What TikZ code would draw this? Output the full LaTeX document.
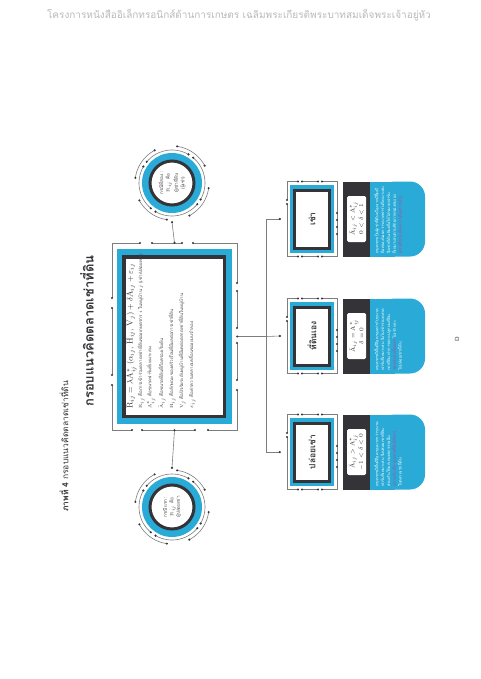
\documentclass[tikz,border=0pt]{standalone}
\usepackage{fontspec}
\newfontfamily\thaifont[Script=Thai]{Loma}
\usetikzlibrary{calc}

\definecolor{bandblue}{RGB}{41,170,215}
\definecolor{banddark}{RGB}{52,52,56}
\definecolor{wiregray}{RGB}{125,125,125}
\definecolor{inkgray}{RGB}{70,70,70}
\definecolor{headgray}{RGB}{185,185,185}
\definecolor{notepink}{RGB}{186,70,160}

\begin{document}
\begin{tikzpicture}[x=1pt,y=-1pt,
    wire/.style={wiregray,line width=0.6pt},
    joint/.style={circle,fill=banddark,inner sep=0pt,minimum size=2.4pt},
    frame_box/.style={rectangle,inner sep=0pt},
    blue_band/.style={rectangle,fill=bandblue,inner sep=0pt},
    dark_band/.style={rectangle,draw=banddark,fill=white,line width=3.5pt,inner sep=0pt},
    ring_frame/.style={circle,inner sep=0pt,minimum size=78pt},
    ring_blue/.style={circle,fill=bandblue,inner sep=0pt,minimum size=60pt},
    ring_dark/.style={circle,draw=banddark,fill=white,line width=3pt,inner sep=0pt,minimum size=44pt},
    ring_text/.style={rotate=90,align=center,inner sep=0pt,text=inkgray,font=\thaifont\fontsize{4.6}{6.5}\selectfont},
    def_line/.style={rotate=90,anchor=west,inner sep=0pt,text=inkgray,font=\thaifont\fontsize{4.5}{5.5}\selectfont},
    case_label/.style={rotate=90,text=banddark,font=\thaifont\bfseries\fontsize{8.5}{10}\selectfont},
    cond_box/.style={rectangle,fill=banddark,inner sep=0pt,minimum width=27pt,minimum height=75pt},
    cond_math/.style={rectangle,rounded corners=1.5pt,fill=white,inner sep=0pt,minimum width=19pt,minimum height=46pt},
    cond_text/.style={rotate=90,align=center,inner sep=0pt,text=banddark,font=\fontsize{6}{8.5}\selectfont},
    note_text/.style={rotate=90,anchor=north west,inner sep=0pt,align=left,text=white,font=\thaifont\fontsize{4}{5.8}\selectfont}]
\fill[white] (0,0) rectangle (480,679);
\useasboundingbox (0,0) rectangle (480,679);

% page header and captions
\node[text=headgray,font=\thaifont\fontsize{10}{11}\selectfont] (header) at (239,15) {โครงการหนังสืออิเล็กทรอนิกส์ด้านการเกษตร เฉลิมพระเกียรติพระบาทสมเด็จพระเจ้าอยู่หัว};
\node[rotate=90,anchor=west,inner sep=0pt,text=banddark,font=\thaifont\fontsize{8.5}{9}\selectfont] (caption) at (64,512) {\textbf{ภาพที่ 4} กรอบแนวคิดตลาดเช่าที่ดิน};
\node[rotate=90,anchor=west,inner sep=0pt,text=banddark,font=\thaifont\bfseries\fontsize{13}{15}\selectfont] (title) at (87,407) {กรอบแนวคิดตลาดเช่าที่ดิน};
\node[rotate=90,text=banddark,font=\sffamily\fontsize{6}{7}\selectfont] (pagenum) at (457,339) {D};

% main model box
\node[frame_box,minimum width=125pt,minimum height=187pt] (mainframe) at (174.5,336.5) {};
\node[blue_band,minimum width=115pt,minimum height=175pt] (mainblue) at (mainframe) {};
\node[dark_band,minimum width=100.5pt,minimum height=159.5pt] (maindark) at (174,336.5) {};
\draw[wire] (112,243) -- (140,243) node[joint]{} (152,243) node[joint]{} -- (182,243) node[joint]{} (193,243) node[joint]{} -- (237,243)
  -- (237,283) node[joint]{} (237,291) node[joint]{} -- (237,328) node[joint]{} (237,343) node[joint]{} -- (237,380) node[joint]{} (237,390) node[joint]{} -- (237,430)
  -- (208,430) node[joint]{} (195,430) node[joint]{} -- (142,430) node[joint]{} (132,430) node[joint]{} -- (112,430)
  -- (112,385) node[joint]{} (112,375) node[joint]{} -- (112,308) node[joint]{} (112,298) node[joint]{} -- (112,243);
\node[def_line,font=\fontsize{8.5}{10}\selectfont,text=banddark] (formula) at (131,409) {$\mathrm{R}_{ij} = \lambda \mathrm{A}^{*}_{ij}\left(\alpha_{ij},\,\mathrm{H}_{ij},\,\mathrm{V}_{j}\right) + \delta\bar{\mathrm{A}}_{ij} + \varepsilon_{ij}$};
\node[def_line] (defR) at (141,409) {$\mathrm{R}_{ij}$ คือการเข้าร่วมตลาดเช่าที่ดินของเกษตรกร $i$ ในหมู่บ้าน $j$ (เช่า/ปล่อยเช่า)};
\node[def_line] (defAstar) at (151,409) {$\mathrm{A}^{*}_{ij}$ คือขนาดฟาร์มที่เหมาะสม};
\node[def_line] (defAbar) at (162,409) {$\bar{\mathrm{A}}_{ij}$ คือขนาดที่ดินที่ถือครองเริ่มต้น};
\node[def_line] (defH) at (172,409) {$\mathrm{H}_{ij}$ คือลักษณะของครัวเรือนที่มีผลต่อการเช่าที่ดิน};
\node[def_line] (defV) at (182,409) {$\mathrm{V}_{j}$ คือปัจจัยระดับหมู่บ้านที่มีผลต่อตลาดเช่าที่ดินในหมู่บ้าน};
\node[def_line] (defeps) at (192,409) {$\varepsilon_{ij}$ คือค่าความคลาดเคลื่อนของแบบจำลอง};

% the two cases
\node[ring_frame] (casetwo) at (172,183) {};
\node[ring_blue] at (casetwo) {};
\node[ring_dark] at (casetwo) {};
\node[ring_text] (casetwotext) at (casetwo) {กรณีที่สอง :\\ $\mathrm{R}_{ij}$ คือ\\ ผู้เช่าที่ดิน\\ (ผู้เช่า)};
\node[ring_frame] (caseone) at (172,507) {};
\node[ring_blue] at (caseone) {};
\node[ring_dark] at (caseone) {};
\node[ring_text] (caseonetext) at (caseone) {กรณีแรก :\\ $\mathrm{R}_{ij}$ คือ\\ ผู้ปล่อยเช่า};
\foreach \c in {casetwo,caseone}{
  \begin{scope}[shift={(\c)}]
    \foreach \a/\b in {8/62,98/152,188/242,278/332}{
      \draw[wire] plot[domain=\a:\b,samples=16] (\x:37);
      \node[joint] at (\a:37) {};
      \node[joint] at (\b:37) {};
    }
    \foreach \a/\b in {40/120,130/210,220/300,310/390}{
      \draw[wire] plot[domain=\a:\b,samples=16] (\x:33);
      \node[joint] at (\a:33) {};
      \node[joint] at (\b:33) {};
    }
  \end{scope}
}
\draw[wire] (casetwo.south) node[joint]{} -- (mainframe.north) node[joint]{};
\draw[wire] (caseone.north) node[joint]{} -- (mainframe.south) node[joint]{};

% three outcomes
\node[frame_box,minimum width=50pt,minimum height=75pt] (rentin) at (312,219) {};
\node[frame_box,minimum width=50pt,minimum height=75pt] (ownland) at (312,336) {};
\node[frame_box,minimum width=50pt,minimum height=75pt] (rentout) at (312,452) {};
\foreach \cy in {219,336,452}{
  \node[blue_band,minimum width=44pt,minimum height=68pt] at (312,\cy) {};
  \node[dark_band,line width=3pt,minimum width=35pt,minimum height=58pt] at (312,\cy) {};
  \draw[wire] (287,\cy-37.5) -- (298,\cy-37.5) node[joint]{} (302,\cy-37.5) node[joint]{} -- (318,\cy-37.5) node[joint]{} (322,\cy-37.5) node[joint]{} -- (337,\cy-37.5)
    -- (337,\cy+37.5) -- (322,\cy+37.5) node[joint]{} (318,\cy+37.5) node[joint]{} -- (302,\cy+37.5) node[joint]{} (298,\cy+37.5) node[joint]{} -- (287,\cy+37.5)
    -- (287,\cy-15) node[joint]{} (287,\cy-19) node[joint]{} -- (287,\cy-37.5);
  \foreach \d in {-6,1,8,15}
    \node[joint] at (337,\cy+\d) {};
  \fill[bandblue,rounded corners=15pt] (380,\cy-37.5) -- (425,\cy-37.5) -- (425,\cy+37.5) -- (380,\cy+37.5) -- cycle;
  \fill[bandblue] (370,\cy-37.5) rectangle (395,\cy+37.5);
}
\node[case_label] (rentinlabel) at (rentin) {เช่า};
\node[case_label] (ownlandlabel) at (ownland) {ที่ดินเอง};
\node[case_label] (rentoutlabel) at (rentout) {ปล่อยเช่า};

\node[cond_box] (rentincond) at (356.5,219) {};
\node[cond_math] at (rentincond) {};
\node[cond_text] at (rentincond) {$\bar{\mathrm{A}}_{ij} < \mathrm{A}^{*}_{ij}$\\ $0 < \delta < 1$};
\node[cond_box] (ownlandcond) at (356.5,336) {};
\node[cond_math] at (ownlandcond) {};
\node[cond_text] at (ownlandcond) {$\bar{\mathrm{A}}_{ij} = \mathrm{A}^{*}_{ij}$\\ $\delta = 0$};
\node[cond_box] (rentoutcond) at (356.5,452) {};
\node[cond_math] at (rentoutcond) {};
\node[cond_text] at (rentoutcond) {$\bar{\mathrm{A}}_{ij} > \mathrm{A}^{*}_{ij}$\\ $-1 < \delta < 0$};

\node[note_text] (rentinnote) at (374,254) {เกษตรกรเป็นผู้เช่าที่ดินเนื่องจากมีพื้นที่\\ ถือครองน้อยกว่าขนาดฟาร์มที่เหมาะสม\\ จึงเช่าที่ดินเพิ่มเพื่อให้ได้ขนาดฟาร์ม\\ ที่เหมาะสมตามศักยภาพของตนเอง\\ \textcolor{notepink}{(ส่วนที่ขาด คือ ความต้องการเช่า)}};
\node[note_text] (ownlandnote) at (374,371) {เกษตรกรมีพื้นที่ถือครองเท่ากับขนาด\\ ฟาร์มที่เหมาะสม จึงไม่เข้าร่วมตลาด\\ เช่าที่ดิน ทำการเพาะปลูกบนที่ดิน\\ \textcolor{notepink}{ของตนเองทั้งหมด} ไม่เช่าและ\\ ไม่ปล่อยเช่าที่ดิน};
\node[note_text] (rentoutnote) at (374,487) {เกษตรกรมีพื้นที่ถือครองมากกว่าขนาด\\ ฟาร์มที่เหมาะสม จึงปล่อยเช่าที่ดิน\\ ส่วนเกินให้แก่เกษตรกรรายอื่น\\ \textcolor{notepink}{(ส่วนเกิน คือ อุปทานที่ดินให้เช่า)}\\ ในตลาดเช่าที่ดิน};

% tree from the model to the outcomes
\coordinate (hub) at (266,336.5);
\coordinate (hubtop) at (266,219);
\coordinate (hubbot) at (266,452);
\draw[wire] (mainframe.east) node[joint]{} -- (hub);
\draw[wire] (hubtop) -- (hubbot);
\draw[wire] (hubtop) -- ([xshift=-7pt]rentin.west) node[joint]{};
\draw[wire] (hub) -- ([xshift=-7pt]ownland.west) node[joint]{};
\draw[wire] (hubbot) -- ([xshift=-7pt]rentout.west) node[joint]{};
\end{tikzpicture}
\end{document}
